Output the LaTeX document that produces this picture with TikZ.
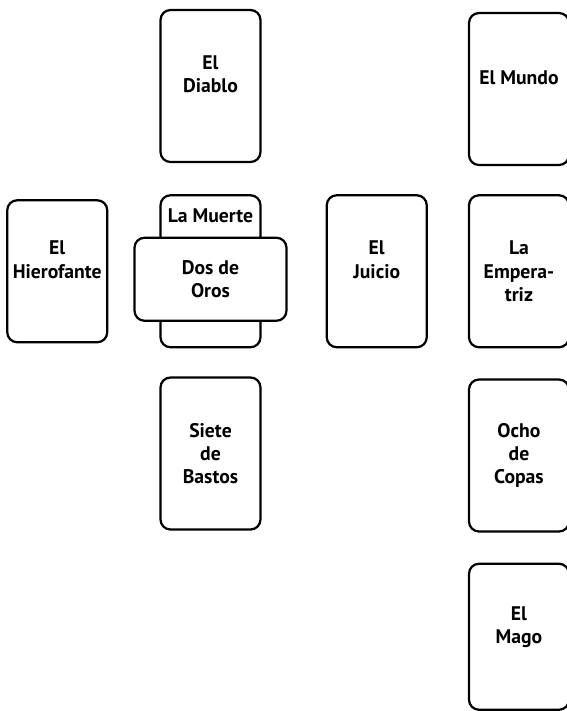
\documentclass[tikz,border=0pt]{standalone}
\usepackage{fontspec}
\setmainfont{PT Sans}
\usetikzlibrary{positioning}
\tikzset{
tarot/.style={
  line width=1.6pt, % heavy card outlines
  node distance=0.75cm
},
card/.style={draw,rounded corners=2.5mm,minimum width=2.5cm,minimum height=3.8cm,
  inner xsep=0pt,align=center,font=\fontsize{14}{16.5}\selectfont\bfseries},
wide card/.style={card,fill=white,minimum width=3.8cm,minimum height=2.075cm},
card text/.style={inner sep=0pt,font=\fontsize{14}{16.5}\selectfont\bfseries},
}

\begin{document}
\begin{tikzpicture}[tarot]
\useasboundingbox (-5.2625,2.15) rectangle (8.9125,-15.625);

\node[card] (diablo)                              {El\\Diablo\\\mbox{}};
\node[card] (muerte) [below=0.775cm of diablo]    {};
\node[card text] (muertetxt) at ([yshift=-0.55cm]muerte.north) {La Muerte};
\node[card,minimum height=3.55cm] (hiero) [left=1.275cm of muerte] {El\\Hierofante\\\mbox{}};
\node[card] (juicio) [right=1.6cm of muerte]      {El\\Juicio\\\mbox{}};
\node[card] (emper)  [right=1cm of juicio]        {La\\Empera-\\triz};
\node[card] (mundo)  [above=0.7cm of emper]       {El Mundo\\\mbox{}};
\node[card] (siete)  [below=0.7cm of muerte]      {Siete\\de\\Bastos};
\node[card] (ocho)   [below=of emper]             {Ocho\\de\\Copas};
\node[card,minimum height=3.65cm] (mago) [below=of ocho] {El\\Mago\\\mbox{}};

% crossing card on top
\node[wide card] (oros) at ([yshift=-0.2cm]muerte) {Dos de\\Oros};
\end{tikzpicture}
\end{document}
